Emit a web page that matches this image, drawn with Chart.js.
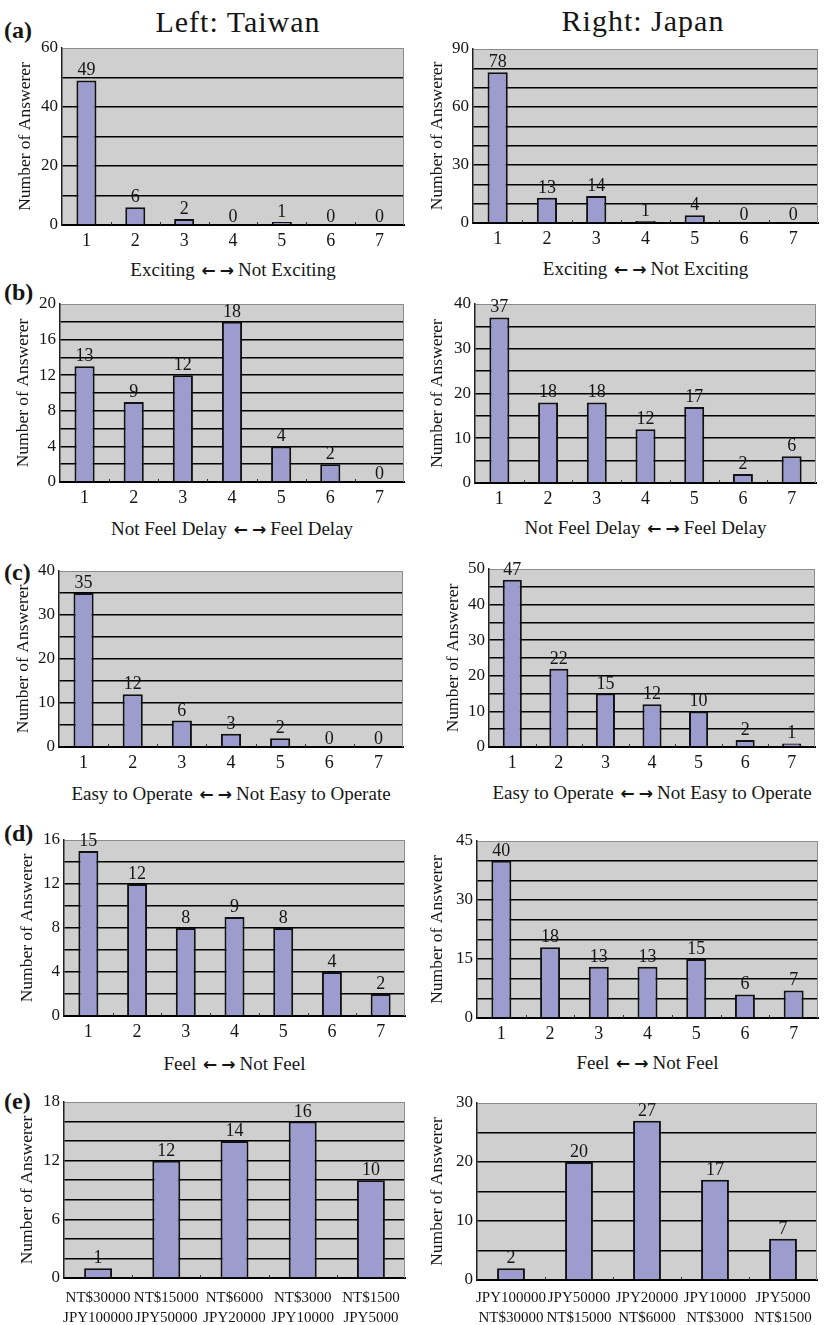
<!DOCTYPE html>
<html><head><meta charset="utf-8">
<script src="https://cdn.jsdelivr.net/npm/chart.js@4.4.1/dist/chart.umd.min.js"></script>
<style>
html,body{margin:0;padding:0;background:#fff;}
#page{position:relative;width:827px;height:1325px;overflow:hidden;font-family:'Liberation Serif','Times New Roman',serif;color:#151515;}
#page canvas{position:absolute;}
.title{position:absolute;font-size:30px;letter-spacing:1px;white-space:nowrap;transform:translate(-50%,-50%);line-height:1;}
.panel{position:absolute;font-size:24px;font-weight:bold;left:4px;transform:translateY(-50%);line-height:1;}
.caption{position:absolute;font-size:19px;white-space:nowrap;transform:translate(-50%,-50%);line-height:1;}
.caption .arr{font-family:'DejaVu Sans',sans-serif;font-size:17px;font-weight:bold;letter-spacing:4px;margin-left:2px;}
</style></head><body>
<div id="page">
  <div class="title" style="left:238px;top:22px;">Left: Taiwan</div>
  <div class="title" style="left:643px;top:21px;">Right: Japan</div>
  <div class="panel" style="top:30px;">(a)</div>
  <div class="panel" style="top:292px;">(b)</div>
  <div class="panel" style="top:572px;">(c)</div>
  <div class="panel" style="top:833px;">(d)</div>
  <div class="panel" style="top:1101px;">(e)</div>
</div>
<script>
// ---------- data ----------
const scaleLabels = ['1','2','3','4','5','6','7'];
const priceLabelsTaiwan = [['NT$30000','JPY100000'],['NT$15000','JPY50000'],['NT$6000','JPY20000'],['NT$3000','JPY10000'],['NT$1500','JPY5000']];
const priceLabelsJapan  = [['JPY100000','NT$30000'],['JPY50000','NT$15000'],['JPY20000','NT$6000'],['JPY10000','NT$3000'],['JPY5000','NT$1500']];

const taiwanExciting = [49,6,2,0,1,0,0];
const japanExciting  = [78,13,14,1,4,0,0];
const taiwanDelay    = [13,9,12,18,4,2,0];
const japanDelay     = [37,18,18,12,17,2,6];
const taiwanEasy     = [35,12,6,3,2,0,0];
const japanEasy      = [47,22,15,12,10,2,1];
const taiwanFeel     = [15,12,8,9,8,4,2];
const japanFeel      = [40,18,13,13,15,6,7];
const taiwanPrice    = [1,12,14,16,10];
const japanPrice     = [2,20,27,17,7];

const yTicksTaiwanExciting = [0,20,40,60];
const yTicksJapanExciting  = [0,30,60,90];
const yTicksTaiwanDelay    = [0,4,8,12,16,20];
const yTicksJapanDelay     = [0,10,20,30,40];
const yTicksTaiwanEasy     = [0,10,20,30,40];
const yTicksJapanEasy      = [0,10,20,30,40,50];
const yTicksTaiwanFeel     = [0,4,8,12,16];
const yTicksJapanFeel      = [0,15,30,45];
const yTicksTaiwanPrice    = [0,6,12,18];
const yTicksJapanPrice     = [0,10,20,30];

const yTitle = 'Number of Answerer';
const captionExciting = ['Exciting', 'Not Exciting'];
const captionDelay    = ['Not Feel Delay', 'Feel Delay'];
const captionEasy     = ['Easy to Operate', 'Not Easy to Operate'];
const captionFeel     = ['Feel', 'Not Feel'];

// ---------- layout ----------
const FONT = "'Liberation Serif','Times New Roman',serif";
const panels = [
  {labels:scaleLabels, values:taiwanExciting, yTicks:yTicksTaiwanExciting, minor:10, caption:captionExciting, col:0, plot:[62,48,404,225],  yt:25,  cap:269},
  {labels:scaleLabels, values:japanExciting,  yTicks:yTicksJapanExciting,  minor:10, caption:captionExciting, col:1, plot:[473,49,818,223], yt:437, cap:268},
  {labels:scaleLabels, values:taiwanDelay,    yTicks:yTicksTaiwanDelay,    minor:2,  caption:captionDelay,    col:0, plot:[60,304,404,482], yt:23,  cap:528},
  {labels:scaleLabels, values:japanDelay,     yTicks:yTicksJapanDelay,     minor:5,  caption:captionDelay,    col:1, plot:[475,304,816,483],yt:437, cap:527},
  {labels:scaleLabels, values:taiwanEasy,     yTicks:yTicksTaiwanEasy,     minor:5,  caption:captionEasy,     col:0, plot:[59,571,403,747], yt:23,  cap:793},
  {labels:scaleLabels, values:japanEasy,      yTicks:yTicksJapanEasy,      minor:5,  caption:captionEasy,     col:1, plot:[489,569,815,747],yt:453, cap:792},
  {labels:scaleLabels, values:taiwanFeel,     yTicks:yTicksTaiwanFeel,     minor:2,  caption:captionFeel,     col:0, plot:[64,840,405,1016],yt:27,  cap:1063},
  {labels:scaleLabels, values:japanFeel,      yTicks:yTicksJapanFeel,      minor:5,  caption:captionFeel,     col:1, plot:[477,841,818,1018],yt:437,cap:1062},
  {labels:priceLabelsTaiwan, values:taiwanPrice, yTicks:yTicksTaiwanPrice, minor:2, caption:null, col:0, plot:[64,1102,405,1278], yt:27, cap:null, multi:true, tickPad:11},
  {labels:priceLabelsJapan,  values:japanPrice,  yTicks:yTicksJapanPrice,  minor:5, caption:null, col:1, plot:[477,1103,817,1280],yt:437,cap:null, multi:true, tickPad:9}
];

const plotDeco = {
  id:'plotDeco',
  beforeDraw(chart){
    const {ctx, chartArea:a} = chart;
    ctx.save();
    ctx.fillStyle = '#cfcfcf';
    ctx.fillRect(a.left, a.top, a.right - a.left, a.bottom - a.top);
    ctx.restore();
  },
  afterDatasetsDraw(chart){
    const {ctx, chartArea:a} = chart;
    const xs = chart.scales.x;
    ctx.save();
    ctx.strokeStyle = '#8c8c8c'; ctx.lineWidth = 1;
    ctx.beginPath(); ctx.moveTo(a.right - 0.5, a.top); ctx.lineTo(a.right - 0.5, a.bottom); ctx.stroke();
    ctx.strokeStyle = '#333';
    const n = chart.data.labels.length;
    for (let i = 1; i < n; i++) {
      const x = Math.round((xs.getPixelForValue(i - 1) + xs.getPixelForValue(i)) / 2) + 0.5;
      ctx.beginPath(); ctx.moveTo(x, a.bottom - 3); ctx.lineTo(x, a.bottom); ctx.stroke();
    }
    const meta = chart.getDatasetMeta(0);
    const data = chart.data.datasets[0].data;
    ctx.fillStyle = '#151515';
    ctx.font = '18px ' + FONT;
    ctx.textAlign = 'center';
    ctx.textBaseline = 'alphabetic';
    meta.data.forEach((bar, i) => {
      const v = data[i];
      ctx.fillText(String(v), bar.x, v === 0 ? bar.y - 3 : bar.y - 5);
    });
    ctx.restore();
  }
};

const page = document.getElementById('page');
panels.forEach(cfg => {
  const colLeft = cfg.col === 0 ? 0 : 413;
  const colW = cfg.col === 0 ? 413 : 414;
  const [pl, pt, pr, pb] = cfg.plot;
  const top = pt - 25;
  const bottom = cfg.multi ? 1325 : pb + 30;
  const h = bottom - top;
  const canvas = document.createElement('canvas');
  canvas.width = colW; canvas.height = h;
  canvas.style.left = colLeft + 'px'; canvas.style.top = top + 'px';
  canvas.style.width = colW + 'px'; canvas.style.height = h + 'px';
  page.appendChild(canvas);
  if (cfg.caption) {
    const d = document.createElement('div');
    d.className = 'caption';
    d.style.left = ((pl + pr) / 2) + 'px';
    d.style.top = cfg.cap + 'px';
    const s1 = document.createTextNode(cfg.caption[0] + ' ');
    const arr = document.createElement('span'); arr.className = 'arr'; arr.textContent = '\u2190\u2192';
    const s2 = document.createTextNode(cfg.caption[1]);
    d.appendChild(s1); d.appendChild(arr); d.appendChild(s2);
    page.appendChild(d);
  }
  const max = cfg.yTicks[cfg.yTicks.length - 1];
  new Chart(canvas, {
    type:'bar',
    data:{labels:cfg.labels, datasets:[{data:cfg.values, backgroundColor:'#9c9ccf', borderColor:'#111', borderWidth:2, barPercentage:0.41, categoryPercentage:1}]},
    options:{
      responsive:false, animation:false, devicePixelRatio:1,
      layout:{padding:{left:0, top:pt - top, right:colLeft + colW - pr, bottom:0}},
      plugins:{legend:{display:false}, tooltip:{enabled:false}},
      scales:{
        x:{
          grid:{display:false, drawTicks:false},
          border:{display:true, color:'#000', width:2},
          ticks:{color:'#151515', autoSkip:false, maxRotation:0, padding:cfg.multi ? cfg.tickPad : 5,
                 font:{family:FONT, size:cfg.multi ? 15 : 18, lineHeight:cfg.multi ? 1.27 : 1.2}},
          title:{display:false},
          afterFit: s => { s.height = bottom - pb; }
        },
        y:{
          min:0, max:max,
          grid:{drawTicks:false,
                color: c => (c.tick && c.tick.value === max) ? '#8c8c8c' : '#000',
                lineWidth: c => (c.tick && c.tick.value === max) ? 1 : 1.6},
          border:{display:true, color:'#222', width:1.5},
          ticks:{stepSize:cfg.minor, autoSkip:false, padding:4, color:'#151515', font:{family:FONT, size:17},
                 callback: v => cfg.yTicks.includes(v) ? String(v) : ''},
          title:{display:true, text:yTitle, color:'#151515', font:{family:FONT, size:17.5, lineHeight:1.2},
                 padding:{top:cfg.yt - colLeft - 10.5, bottom:0}},
          afterFit: s => { s.width = pl - colLeft; }
        }
      }
    },
    plugins:[plotDeco]
  });
});
</script>
</body></html>
